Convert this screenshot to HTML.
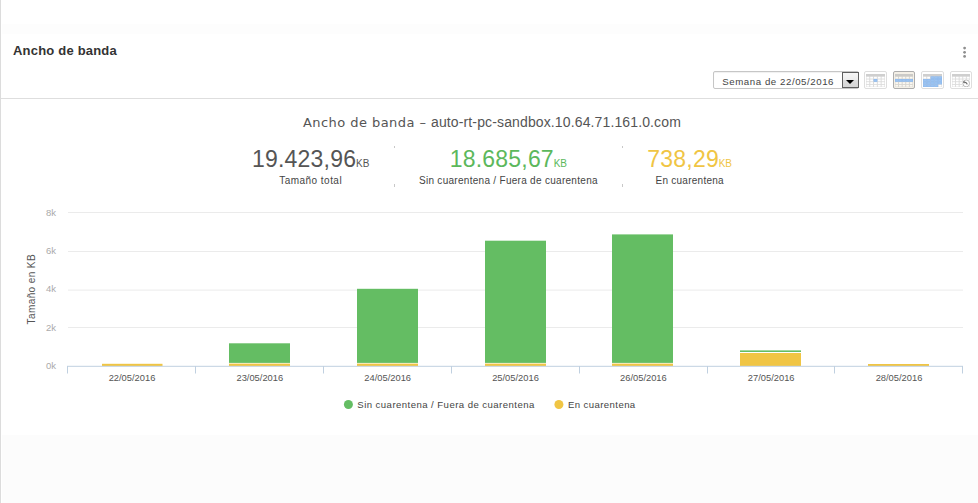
<!DOCTYPE html>
<html lang="es">
<head>
<meta charset="utf-8">
<title>Ancho de banda</title>
<style>
html,body{margin:0;padding:0;background:#fff;}
body{width:978px;height:503px;position:relative;overflow:hidden;font-family:"Liberation Sans",Arial,sans-serif;color:#333;}
.abs{position:absolute;}
#leftborder{left:0;top:0;width:1px;height:503px;background:#dcdcdc;}
#band1{left:2px;top:24px;width:976px;height:10px;background:#fdfdfd;}
#band2{left:2px;top:435px;width:976px;height:68px;background:#fcfcfc;}
#hr{left:1px;top:98px;width:977px;height:1px;background:#dedede;}
#title{left:13px;top:42.6px;font-size:13px;letter-spacing:.2px;font-weight:bold;line-height:16px;color:#333;white-space:nowrap;}
#sel{left:713px;top:71px;width:146px;height:18px;box-sizing:border-box;border:1px solid #c6c6c6;border-radius:2px;background:#fff;box-shadow:inset 0 1px 1px #f0f0f0;}
#seltxt{left:8.3px;top:2px;font-size:9.7px;letter-spacing:.55px;line-height:16px;color:#444;white-space:nowrap;}
#selbtn{left:128px;top:0px;width:17px;height:16px;box-sizing:border-box;border:1px solid #5e5e5e;background:linear-gradient(#f6f6f6,#ececec 50%,#dcdcdc 52%,#d6d6d6);}
#selbtn i{position:absolute;left:3px;top:6.6px;width:0;height:0;border-left:4px solid transparent;border-right:4px solid transparent;border-top:4.5px solid #000;}
.ib{top:71px;width:23px;height:18px;box-sizing:border-box;border:1px solid #dedede;border-radius:2px;background:#fff;}
.ib.on{border-color:#adadad;background:#f4f0e7;}
.ib svg{position:absolute;left:1px;top:2px;}
#ct1{left:303px;top:113.6px;white-space:nowrap;color:#555;line-height:18px;font-family:"DejaVu Sans","Liberation Sans",sans-serif;font-size:13px;letter-spacing:.44px;}
#ct2{left:431px;top:113.3px;white-space:nowrap;color:#555;line-height:18px;font-size:14px;letter-spacing:.13px;}
.stat{top:145px;text-align:center;white-space:nowrap;transform:translateX(-50%);}
.stat .n{font-size:23px;letter-spacing:.2px;line-height:28px;height:28px;}
.stat .n small{font-size:10px;letter-spacing:0;margin-left:-.2px;}
.stat .l{font-size:10px;letter-spacing:.34px;line-height:14px;color:#444;margin-top:1.4px;}
.sep{width:1px;height:2px;background:#c8c8c8;}
#chart{left:0;top:0;}
</style>
</head>
<body>
<div class="abs" id="band1"></div>
<div class="abs" id="band2"></div>
<div class="abs" id="leftborder"></div>
<div class="abs" id="hr"></div>
<div class="abs" id="title">Ancho de banda</div>

<div class="abs" id="sel">
  <div class="abs" id="seltxt">Semana de 22/05/2016</div>
  <div class="abs" id="selbtn"><i></i></div>
</div>

<div class="abs ib" style="left:864px;width:23px"><svg width="19" height="13" viewBox="0 0 19 13" preserveAspectRatio="none"><rect width="19" height="13" fill="#dcdcdc"/><rect width="19" height="2.4" fill="#cfcfcf"/><rect x="0.45" y="2.80" width="2.8" height="1.8" fill="#fff"/><rect x="4.25" y="2.80" width="2.8" height="1.8" fill="#fff"/><rect x="8.05" y="2.80" width="2.8" height="1.8" fill="#fff"/><rect x="11.85" y="2.80" width="2.8" height="1.8" fill="#fff"/><rect x="15.65" y="2.80" width="2.8" height="1.8" fill="#fff"/><rect x="0.45" y="5.48" width="2.8" height="1.8" fill="#fff"/><rect x="4.25" y="5.48" width="2.8" height="1.8" fill="#fff"/><rect x="7.55" y="5.03" width="3.85" height="2.73" fill="#8ab7ed"/><rect x="8.05" y="5.48" width="2.8" height="1.8" fill="#9bc3f1"/><rect x="11.85" y="5.48" width="2.8" height="1.8" fill="#fff"/><rect x="15.65" y="5.48" width="2.8" height="1.8" fill="#fff"/><rect x="0.45" y="8.16" width="2.8" height="1.8" fill="#fff"/><rect x="4.25" y="8.16" width="2.8" height="1.8" fill="#fff"/><rect x="8.05" y="8.16" width="2.8" height="1.8" fill="#fff"/><rect x="11.85" y="8.16" width="2.8" height="1.8" fill="#fff"/><rect x="15.65" y="8.16" width="2.8" height="1.8" fill="#fff"/><rect x="0.45" y="10.84" width="2.8" height="1.8" fill="#fff"/><rect x="4.25" y="10.84" width="2.8" height="1.8" fill="#fff"/><rect x="8.05" y="10.84" width="2.8" height="1.8" fill="#fff"/><rect x="11.85" y="10.84" width="2.8" height="1.8" fill="#fff"/><rect x="15.65" y="10.84" width="2.8" height="1.8" fill="#fff"/></svg></div>
<div class="abs ib on" style="left:893px;width:22px"><svg width="18" height="13" viewBox="0 0 19 13" preserveAspectRatio="none"><rect width="19" height="13" fill="#d6d4cf"/><rect width="19" height="2.4" fill="#cbcac7"/><rect x="0.45" y="2.80" width="2.8" height="1.8" fill="#fbf8f1"/><rect x="4.25" y="2.80" width="2.8" height="1.8" fill="#fbf8f1"/><rect x="8.05" y="2.80" width="2.8" height="1.8" fill="#fbf8f1"/><rect x="11.85" y="2.80" width="2.8" height="1.8" fill="#fbf8f1"/><rect x="15.65" y="2.80" width="2.8" height="1.8" fill="#fbf8f1"/><rect x="-0.05" y="5.03" width="3.85" height="2.73" fill="#8ab7ed"/><rect x="0.45" y="5.48" width="2.8" height="1.8" fill="#9bc3f1"/><rect x="3.75" y="5.03" width="3.85" height="2.73" fill="#8ab7ed"/><rect x="4.25" y="5.48" width="2.8" height="1.8" fill="#9bc3f1"/><rect x="7.55" y="5.03" width="3.85" height="2.73" fill="#8ab7ed"/><rect x="8.05" y="5.48" width="2.8" height="1.8" fill="#9bc3f1"/><rect x="11.35" y="5.03" width="3.85" height="2.73" fill="#8ab7ed"/><rect x="11.85" y="5.48" width="2.8" height="1.8" fill="#9bc3f1"/><rect x="15.15" y="5.03" width="3.85" height="2.73" fill="#8ab7ed"/><rect x="15.65" y="5.48" width="2.8" height="1.8" fill="#9bc3f1"/><rect x="0.45" y="8.16" width="2.8" height="1.8" fill="#fbf8f1"/><rect x="4.25" y="8.16" width="2.8" height="1.8" fill="#fbf8f1"/><rect x="8.05" y="8.16" width="2.8" height="1.8" fill="#fbf8f1"/><rect x="11.85" y="8.16" width="2.8" height="1.8" fill="#fbf8f1"/><rect x="15.65" y="8.16" width="2.8" height="1.8" fill="#fbf8f1"/><rect x="0.45" y="10.84" width="2.8" height="1.8" fill="#fbf8f1"/><rect x="4.25" y="10.84" width="2.8" height="1.8" fill="#fbf8f1"/><rect x="8.05" y="10.84" width="2.8" height="1.8" fill="#fbf8f1"/><rect x="11.85" y="10.84" width="2.8" height="1.8" fill="#fbf8f1"/><rect x="15.65" y="10.84" width="2.8" height="1.8" fill="#fbf8f1"/></svg></div>
<div class="abs ib" style="left:921px;width:23px"><svg width="19" height="13" viewBox="0 0 19 13" preserveAspectRatio="none"><rect width="19" height="13" fill="#dcdcdc"/><rect width="19" height="2.4" fill="#cfcfcf"/><rect x="0.45" y="2.80" width="2.8" height="1.8" fill="#fff"/><rect x="4.25" y="2.80" width="2.8" height="1.8" fill="#fff"/><rect x="7.55" y="2.35" width="3.85" height="2.73" fill="#8ab7ed"/><rect x="8.05" y="2.80" width="2.8" height="1.8" fill="#9bc3f1"/><rect x="11.35" y="2.35" width="3.85" height="2.73" fill="#8ab7ed"/><rect x="11.85" y="2.80" width="2.8" height="1.8" fill="#9bc3f1"/><rect x="15.15" y="2.35" width="3.85" height="2.73" fill="#8ab7ed"/><rect x="15.65" y="2.80" width="2.8" height="1.8" fill="#9bc3f1"/><rect x="-0.05" y="5.03" width="3.85" height="2.73" fill="#8ab7ed"/><rect x="0.45" y="5.48" width="2.8" height="1.8" fill="#9bc3f1"/><rect x="3.75" y="5.03" width="3.85" height="2.73" fill="#8ab7ed"/><rect x="4.25" y="5.48" width="2.8" height="1.8" fill="#9bc3f1"/><rect x="7.55" y="5.03" width="3.85" height="2.73" fill="#8ab7ed"/><rect x="8.05" y="5.48" width="2.8" height="1.8" fill="#9bc3f1"/><rect x="11.35" y="5.03" width="3.85" height="2.73" fill="#8ab7ed"/><rect x="11.85" y="5.48" width="2.8" height="1.8" fill="#9bc3f1"/><rect x="15.15" y="5.03" width="3.85" height="2.73" fill="#8ab7ed"/><rect x="15.65" y="5.48" width="2.8" height="1.8" fill="#9bc3f1"/><rect x="-0.05" y="7.71" width="3.85" height="2.73" fill="#8ab7ed"/><rect x="0.45" y="8.16" width="2.8" height="1.8" fill="#9bc3f1"/><rect x="3.75" y="7.71" width="3.85" height="2.73" fill="#8ab7ed"/><rect x="4.25" y="8.16" width="2.8" height="1.8" fill="#9bc3f1"/><rect x="7.55" y="7.71" width="3.85" height="2.73" fill="#8ab7ed"/><rect x="8.05" y="8.16" width="2.8" height="1.8" fill="#9bc3f1"/><rect x="11.35" y="7.71" width="3.85" height="2.73" fill="#8ab7ed"/><rect x="11.85" y="8.16" width="2.8" height="1.8" fill="#9bc3f1"/><rect x="15.15" y="7.71" width="3.85" height="2.73" fill="#8ab7ed"/><rect x="15.65" y="8.16" width="2.8" height="1.8" fill="#9bc3f1"/><rect x="-0.05" y="10.39" width="3.85" height="2.73" fill="#8ab7ed"/><rect x="0.45" y="10.84" width="2.8" height="1.8" fill="#9bc3f1"/><rect x="3.75" y="10.39" width="3.85" height="2.73" fill="#8ab7ed"/><rect x="4.25" y="10.84" width="2.8" height="1.8" fill="#9bc3f1"/><rect x="7.55" y="10.39" width="3.85" height="2.73" fill="#8ab7ed"/><rect x="8.05" y="10.84" width="2.8" height="1.8" fill="#9bc3f1"/><rect x="11.35" y="10.39" width="3.85" height="2.73" fill="#8ab7ed"/><rect x="11.85" y="10.84" width="2.8" height="1.8" fill="#9bc3f1"/><rect x="15.65" y="10.84" width="2.8" height="1.8" fill="#fff"/></svg></div>
<div class="abs ib" style="left:950px;width:22px"><svg width="18" height="13" viewBox="0 0 19 13" preserveAspectRatio="none"><rect width="19" height="13" fill="#dcdcdc"/><rect width="19" height="2.4" fill="#cfcfcf"/><rect x="0.45" y="2.80" width="2.8" height="1.8" fill="#fff"/><rect x="4.25" y="2.80" width="2.8" height="1.8" fill="#fff"/><rect x="8.05" y="2.80" width="2.8" height="1.8" fill="#fff"/><rect x="11.85" y="2.80" width="2.8" height="1.8" fill="#fff"/><rect x="15.65" y="2.80" width="2.8" height="1.8" fill="#fff"/><rect x="0.45" y="5.48" width="2.8" height="1.8" fill="#fff"/><rect x="4.25" y="5.48" width="2.8" height="1.8" fill="#fff"/><rect x="8.05" y="5.48" width="2.8" height="1.8" fill="#fff"/><rect x="11.85" y="5.48" width="2.8" height="1.8" fill="#fff"/><rect x="15.65" y="5.48" width="2.8" height="1.8" fill="#fff"/><rect x="0.45" y="8.16" width="2.8" height="1.8" fill="#fff"/><rect x="4.25" y="8.16" width="2.8" height="1.8" fill="#fff"/><rect x="8.05" y="8.16" width="2.8" height="1.8" fill="#fff"/><rect x="11.85" y="8.16" width="2.8" height="1.8" fill="#fff"/><rect x="15.65" y="8.16" width="2.8" height="1.8" fill="#fff"/><rect x="0.45" y="10.84" width="2.8" height="1.8" fill="#fff"/><rect x="4.25" y="10.84" width="2.8" height="1.8" fill="#fff"/><rect x="8.05" y="10.84" width="2.8" height="1.8" fill="#fff"/><rect x="11.85" y="10.84" width="2.8" height="1.8" fill="#fff"/><rect x="15.65" y="10.84" width="2.8" height="1.8" fill="#fff"/><circle cx="15" cy="9.4" r="4.4" fill="#fff"/><circle cx="15" cy="9.4" r="3.5" fill="#fff" stroke="#b0b0b0" stroke-width="0.9"/><path d="M13.2 8.4L15 8.7L16.2 10.3" fill="none" stroke="#666" stroke-width="1.1"/><path d="M11.2 7.7l2.8-.5l-1 2.3z" fill="#666"/></svg></div>

<div class="abs" id="ct1">Ancho de banda –</div><div class="abs" id="ct2">auto-rt-pc-sandbox.10.64.71.161.0.com</div>

<div class="abs stat" style="left:310.7px;color:#555"><div class="n">19.423,96<small>KB</small></div><div class="l" style="letter-spacing:.46px">Tamaño total</div></div>
<div class="abs stat" style="left:508.4px;color:#5cb85c"><div class="n">18.685,67<small>KB</small></div><div class="l" style="letter-spacing:.29px">Sin cuarentena / Fuera de cuarentena</div></div>
<div class="abs stat" style="left:689.7px;color:#f0c544"><div class="n">738,29<small>KB</small></div><div class="l" style="letter-spacing:.26px">En cuarentena</div></div>

<div class="abs sep" style="left:394px;top:146px"></div><div class="abs sep" style="left:394px;top:184px;height:3px"></div><div class="abs sep" style="left:622px;top:146px"></div><div class="abs sep" style="left:622px;top:184px;height:3px"></div>
<svg class="abs" id="chart" width="978" height="503" viewBox="0 0 978 503" font-family="'Liberation Sans',Arial,sans-serif">
<g stroke="#ebebeb" stroke-width="1" fill="none">
<path d="M68 212.5H963"/><path d="M68 251.5H963"/><path d="M68 290.1H963"/><path d="M68 327.5H963"/>
</g>
<g>
<rect x="102" y="363.8" width="60.5" height="2.2" fill="#f0c544"/>
<rect x="229" y="343.3" width="61" height="19.6" fill="#64bd63"/><rect x="229" y="363.6" width="61" height="2.4" fill="#f0c544"/>
<rect x="357" y="288.8" width="61" height="74.1" fill="#64bd63"/><rect x="357" y="363.6" width="61" height="2.4" fill="#f0c544"/>
<rect x="485" y="240.7" width="61" height="122.2" fill="#64bd63"/><rect x="485" y="363.6" width="61" height="2.4" fill="#f0c544"/>
<rect x="612" y="234.4" width="61" height="128.5" fill="#64bd63"/><rect x="612" y="363.6" width="61" height="2.4" fill="#f0c544"/>
<rect x="740" y="350.4" width="61" height="1.6" fill="#64bd63"/><rect x="740" y="353" width="61" height="13" fill="#f0c544"/>
<rect x="868" y="364" width="61" height="2" fill="#f0c544"/>
</g>
<g stroke="#c0d0e0" stroke-width="1" fill="none">
<path d="M67 366.3H963"/>
<path d="M67.5 366V373.5"/><path d="M195.5 366V373.5"/><path d="M323.5 366V373.5"/><path d="M451.5 366V373.5"/><path d="M579.5 366V373.5"/><path d="M707.5 366V373.5"/><path d="M834.5 366V373.5"/><path d="M962.5 366V373.5"/>
</g>
<g font-size="9.5" fill="#aaa" text-anchor="end">
<text x="56" y="215.5">8k</text><text x="56" y="253.9">6k</text><text x="56" y="292.3">4k</text><text x="56" y="330.9">2k</text><text x="56" y="369">0k</text>
</g>
<g font-size="9.33" fill="#555" text-anchor="middle">
<text x="132" y="380.9">22/05/2016</text><text x="259.8" y="380.9">23/05/2016</text><text x="387.7" y="380.9">24/05/2016</text><text x="515.5" y="380.9">25/05/2016</text><text x="643.4" y="380.9">26/05/2016</text><text x="771.2" y="380.9">27/05/2016</text><text x="899" y="380.9">28/05/2016</text>
</g>
<text font-size="10" letter-spacing="0.4" fill="#555" text-anchor="middle" transform="translate(35.3 289.2) rotate(-90)">Tamaño en KB</text>
<circle cx="964.6" cy="48.1" r="1.4" fill="#8e8e8e"/><circle cx="964.6" cy="52.3" r="1.4" fill="#8e8e8e"/><circle cx="964.6" cy="56.4" r="1.4" fill="#8e8e8e"/>
<circle cx="348.4" cy="404.5" r="4.5" fill="#64bd63"/>
<text x="357.3" y="407.6" font-size="9.6" letter-spacing="0.44" fill="#444">Sin cuarentena / Fuera de cuarentena</text>
<circle cx="558.9" cy="404.5" r="4.5" fill="#f0c544"/>
<text x="568" y="407.6" font-size="9.6" letter-spacing="0.4" fill="#444">En cuarentena</text>
</svg>
</body>
</html>
